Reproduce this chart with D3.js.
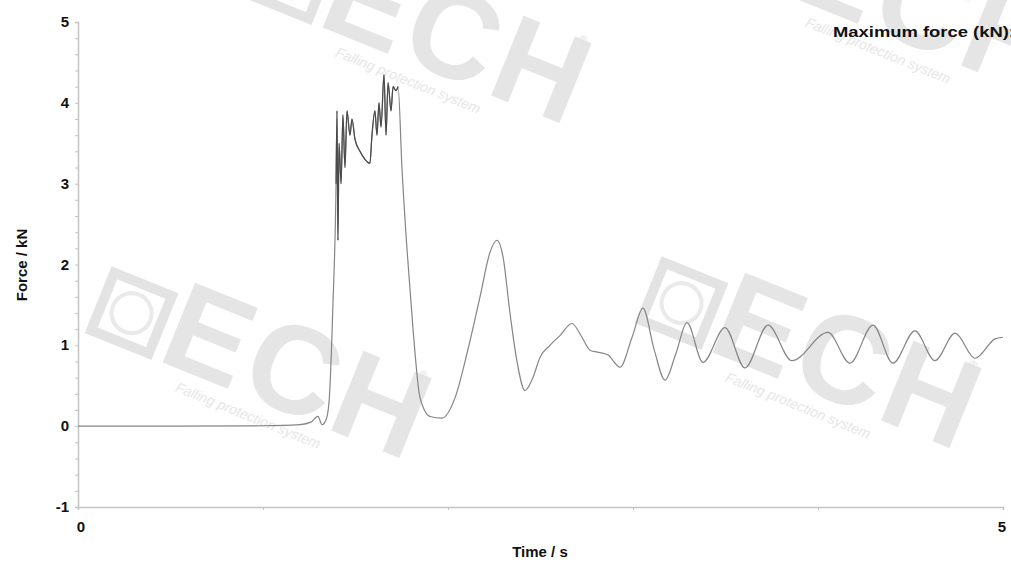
<!DOCTYPE html>
<html>
<head>
<meta charset="utf-8">
<script src="https://cdn.jsdelivr.net/npm/d3@7"></script>
<style>
  body { margin: 0; background: #fff; }
  text { font-family: "Liberation Sans", Arial, sans-serif; }
</style>
</head>
<body>
<script>
// Data
const timeS = [0, 0.5, 1.0, 1.2, 1.259, 1.297, 1.319, 1.341, 1.357, 1.378, 1.395, 1.400, 1.405, 1.411,
  1.422, 1.432, 1.443, 1.454, 1.470, 1.481, 1.497, 1.524, 1.551, 1.578, 1.589, 1.605, 1.616, 1.627,
  1.638, 1.654, 1.665, 1.676, 1.692, 1.703, 1.719, 1.730, 1.751, 1.778, 1.811, 1.849, 1.903, 1.968,
  2.038, 2.108, 2.173, 2.227, 2.265, 2.297, 2.335, 2.373, 2.416, 2.459, 2.497, 2.551, 2.605, 2.670,
  2.724, 2.768, 2.822, 2.865, 2.930, 2.995, 3.054, 3.114, 3.173, 3.232, 3.292, 3.378, 3.497, 3.605,
  3.730, 3.859, 4.054, 4.173, 4.297, 4.405, 4.524, 4.632, 4.741, 4.849, 4.957, 5.0];
const forceKN = [0, 0, 0.005, 0.02, 0.05, 0.12, 0.02, 0.08, 0.3, 1.5, 3.0, 3.9, 2.3, 3.5,
  3.0, 3.85, 3.2, 3.9, 3.6, 3.8, 3.55, 3.4, 3.3, 3.25, 3.6, 3.9, 3.6, 4.0,
  3.7, 4.35, 3.6, 4.25, 3.9, 4.2, 4.15, 4.2, 3.2, 2.2, 1.2, 0.35, 0.12, 0.1,
  0.35, 0.95, 1.6, 2.15, 2.3, 2.1, 1.4, 0.8, 0.44, 0.6, 0.85, 1.0, 1.12, 1.27,
  1.1, 0.94, 0.91, 0.88, 0.73, 1.1, 1.46, 0.95, 0.57, 0.9, 1.28, 0.79, 1.22, 0.72,
  1.25, 0.81, 1.16, 0.78, 1.25, 0.78, 1.18, 0.81, 1.15, 0.84, 1.08, 1.1];
const yTicks = [-1, 0, 1, 2, 3, 4, 5];
const xTicks = [0, 1, 2, 3, 4, 5];
const xLabels = [0, 5];

const width = 1011, height = 570;
const margin = {top: 22, right: 8, bottom: 63, left: 78};

const svg = d3.select("body").append("svg")
  .attr("width", width)
  .attr("height", height);

// Watermarks
const marks = [[430, 60], [900, 30], [270, 395], [820, 385]];
marks.forEach(m => {
  const g = svg.append("g")
    .attr("transform", "translate(" + m[0] + "," + m[1] + ") rotate(22)");
  g.append("rect").attr("x", -190).attr("y", -55).attr("width", 62).attr("height", 62)
    .attr("fill", "none").attr("stroke", "#e3e3e3").attr("stroke-width", 10);
  g.append("circle").attr("cx", -159).attr("cy", -24).attr("r", 20)
    .attr("fill", "none").attr("stroke", "#eaeaea").attr("stroke-width", 4);
  g.append("text").attr("x", -120).attr("y", 10)
    .attr("font-size", 125).attr("font-weight", "bold").attr("fill", "#e5e5e5")
    .attr("letter-spacing", 4)
    .text("ECH");
  g.append("text").attr("x", 130).attr("y", -72)
    .attr("font-size", 12).attr("fill", "#e3e3e3").text("®");
  g.append("text").attr("x", -90).attr("y", 32)
    .attr("font-size", 14).attr("font-style", "italic").attr("fill", "#e6e6e6")
    .text("Falling protection system");
});

const x = d3.scaleLinear().domain([0, 5]).range([margin.left, width - margin.right]);
const y = d3.scaleLinear().domain([-1, 5]).range([height - margin.bottom, margin.top]);

const axisColor = "#c4c4c4";

// Y axis
const yAxis = svg.append("g")
  .attr("transform", "translate(" + margin.left + ",0)")
  .call(d3.axisLeft(y).tickValues(d3.range(-1, 5.01, 0.2)).tickSize(3).tickFormat(""));
yAxis.select(".domain").attr("stroke", axisColor).attr("stroke-width", 1.5);
yAxis.selectAll(".tick line").attr("stroke", axisColor);

svg.append("g").selectAll("text")
  .data(yTicks).enter().append("text")
  .attr("x", margin.left - 9)
  .attr("y", d => y(d) + 5)
  .attr("text-anchor", "end")
  .attr("font-size", 15).attr("font-weight", "bold").attr("fill", "#111")
  .text(d => d);

// X axis
const xAxis = svg.append("g")
  .attr("transform", "translate(0," + (height - margin.bottom) + ")")
  .call(d3.axisBottom(x).tickValues(xTicks).tickSize(3).tickFormat(""));
xAxis.select(".domain").attr("stroke", axisColor).attr("stroke-width", 1.5);
xAxis.selectAll(".tick line").attr("stroke", axisColor);

svg.append("g").selectAll("text")
  .data(xLabels).enter().append("text")
  .attr("x", d => x(d) + (d === 0 ? 3 : -1))
  .attr("y", height - margin.bottom + 25)
  .attr("text-anchor", "middle")
  .attr("font-size", 15).attr("font-weight", "bold").attr("fill", "#111")
  .text(d => d);

// Axis titles
svg.append("text")
  .attr("x", 540).attr("y", 557)
  .attr("text-anchor", "middle")
  .attr("font-size", 15).attr("font-weight", "bold").attr("fill", "#111")
  .text("Time / s");

svg.append("text")
  .attr("transform", "translate(27,265) rotate(-90)")
  .attr("text-anchor", "middle")
  .attr("font-size", 15).attr("font-weight", "bold").attr("fill", "#111")
  .text("Force / kN");

svg.append("text")
  .attr("x", 833).attr("y", 37)
  .attr("font-size", 14).attr("font-weight", "bold").attr("fill", "#111")
  .attr("textLength", 182).attr("lengthAdjust", "spacingAndGlyphs")
  .text("Maximum force (kN):");

// Force curve
const data = timeS.map((t, i) => [t, forceKN[i]]);
const line = d3.line()
  .x(d => x(d[0]))
  .y(d => y(d[1]))
  .curve(d3.curveMonotoneX);

svg.append("path")
  .datum(data)
  .attr("d", line)
  .attr("fill", "none")
  .attr("stroke", "#858585")
  .attr("stroke-width", 1.2);

// darker overlay on the jagged peak section
svg.append("path")
  .datum(data.filter(d => d[0] >= 1.395 && d[0] <= 1.730))
  .attr("d", line)
  .attr("fill", "none")
  .attr("stroke", "#4a4a4a")
  .attr("stroke-width", 1.2);
</script>
</body>
</html>
